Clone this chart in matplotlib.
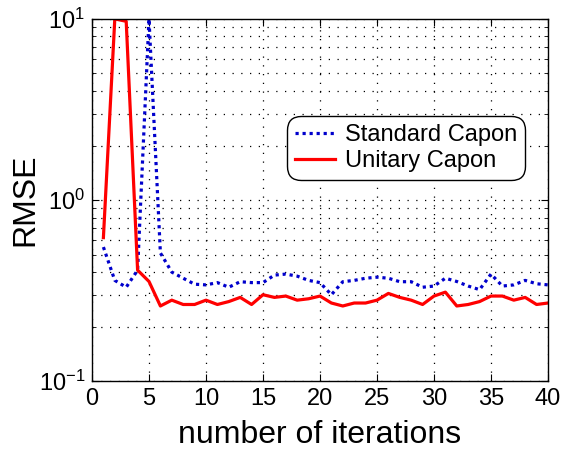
import matplotlib
matplotlib.use("Agg")
import matplotlib.pyplot as plt
from matplotlib.ticker import LogLocator, MultipleLocator, NullFormatter

plt.rcParams["font.family"] = ["Liberation Sans", "DejaVu Sans"]
plt.rcParams["mathtext.fontset"] = "custom"
plt.rcParams["mathtext.rm"] = "Liberation Sans"
plt.rcParams["mathtext.it"] = "Liberation Sans"

iterations = list(range(1, 41))
standard_capon = [
    0.55, 0.36, 0.33, 0.41, 10.0, 0.51, 0.40, 0.37, 0.343, 0.34,
    0.35, 0.33, 0.354, 0.35, 0.35, 0.385, 0.39, 0.38, 0.36, 0.35,
    0.30, 0.354, 0.36, 0.37, 0.375, 0.37, 0.354, 0.354, 0.33, 0.335,
    0.37, 0.355, 0.335, 0.32, 0.39, 0.335, 0.34, 0.36, 0.345, 0.34,
]
unitary_capon = [
    0.62, 10.0, 9.7, 0.41, 0.355, 0.26, 0.28, 0.265, 0.265, 0.28,
    0.265, 0.275, 0.29, 0.265, 0.30, 0.29, 0.295, 0.28, 0.285, 0.295,
    0.27, 0.26, 0.27, 0.27, 0.28, 0.305, 0.29, 0.28, 0.265, 0.295,
    0.31, 0.26, 0.265, 0.275, 0.295, 0.295, 0.28, 0.29, 0.265, 0.27,
]

fig = plt.figure(figsize=(5.75, 4.5), dpi=100)
ax = fig.add_axes([0.16, 0.153, 0.793, 0.805])

ax.plot(iterations, standard_capon, color="#0000cc", lw=2.3,
        linestyle=(0, (1, 1.2)), label="Standard Capon")
ax.plot(iterations, unitary_capon, color="red", lw=2.3,
        label="Unitary Capon")

ax.set_yscale("log")
ax.set_xlim(0, 40)
ax.set_ylim(0.1, 10)
ax.xaxis.set_major_locator(MultipleLocator(5))
ax.yaxis.set_major_locator(LogLocator(base=10, numticks=5))
ax.yaxis.set_minor_locator(LogLocator(base=10, subs=range(2, 10), numticks=10))
ax.yaxis.set_minor_formatter(NullFormatter())

# matlab style sparse dotted grid
grid_style = dict(color="black", linestyle=(0, (1, 6)), lw=0.9)
ax.grid(True, which="major", axis="both", **grid_style)
ax.grid(True, which="minor", axis="y", **grid_style)

ax.tick_params(which="both", direction="in", top=True, right=True,
               labelsize=17, pad=5)
ax.tick_params(which="major", length=5)
ax.tick_params(which="minor", length=3)
for s in ax.spines.values():
    s.set_linewidth(1.0)

ax.set_xlabel("number of iterations", fontsize=23, labelpad=7)
ax.set_ylabel("RMSE", fontsize=23, labelpad=-1)

leg = ax.legend(loc="upper left", bbox_to_anchor=(0.499, 0.742),
                bbox_transform=fig.transFigure, borderaxespad=0,
                fontsize=17, handlelength=1.7, handletextpad=0.4,
                labelspacing=0.15, borderpad=0.35, fancybox=True,
                framealpha=1, edgecolor="black")
leg.get_frame().set_linewidth(1.0)
leg.get_frame().set_boxstyle("round", pad=0.0, rounding_size=0.6)

fig.savefig("out.png", dpi=100)
